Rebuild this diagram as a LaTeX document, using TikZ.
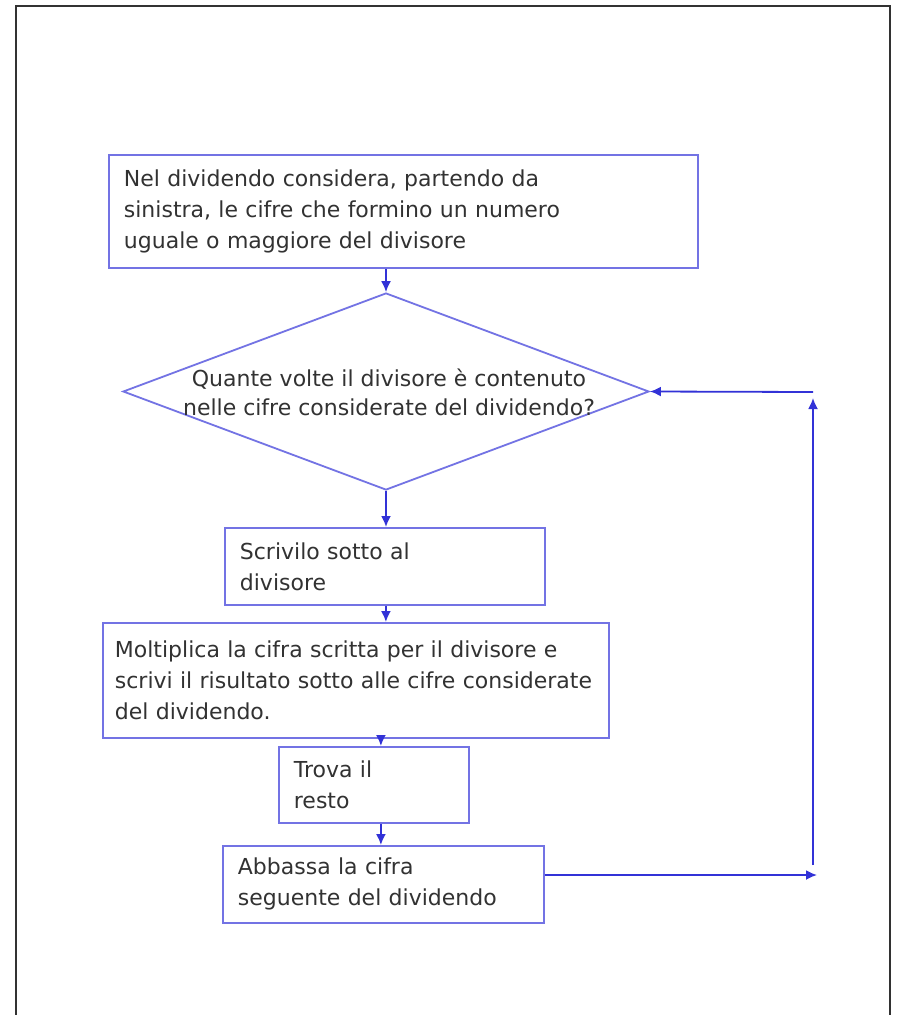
\documentclass[tikz,border=0pt]{standalone}
\usepackage{fontspec}
\setmainfont{DejaVu Sans}
\usetikzlibrary{shapes.geometric, arrows.meta, positioning, calc}
\definecolor{boxblue}{RGB}{115, 115, 228}
\definecolor{flowblue}{RGB}{50, 50, 215}
\definecolor{textgray}{RGB}{50, 50, 50}
\definecolor{framegray}{RGB}{50, 50, 50}

\begin{document}
\begin{tikzpicture}[x=1pt, y=-1pt,
    stepbox/.style={draw=boxblue, line width=1.8pt, rectangle, anchor=north west,
        inner xsep=15pt, inner ysep=0pt, align=left, text=textgray,
        font=\fontsize{22}{31}\selectfont},
    decision/.style={draw=boxblue, line width=1.8pt, diamond, inner sep=0pt,
        minimum width=526pt, minimum height=197pt},
    asklabel/.style={align=center, text=textgray, inner sep=0pt,
        font=\fontsize{22}{29}\selectfont},
    flow/.style={draw=flowblue, line width=1.8pt, -{Latex[length=11pt, width=10pt]}}
]
    % Page and frame
    \fill[white] (0,0) rectangle (897,1015);
    \useasboundingbox (0,0) rectangle (897,1015);
    \draw[framegray, line width=2pt] (15.5,1015) -- (15.5,6) -- (890,6) -- (890,1015);

    % Steps
    \node[stepbox, text width=559pt, minimum height=113pt] (consider) at (108,154)
        {Nel dividendo considera, partendo da\\sinistra, le cifre che formino un numero\\uguale o maggiore del divisore};
    \node[decision] (ask) at (386,391.5) {};
    \node[asklabel] (asktext) at (389,392)
        {Quante volte il divisore è contenuto\\nelle cifre considerate del dividendo?};
    \node[stepbox, text width=290pt, minimum height=77pt] (write) at (224,527)
        {Scrivilo sotto al\\divisore};
    \node[stepbox, inner xsep=12pt, text width=482pt, minimum height=115pt] (multiply) at (102,622)
        {\hyphenpenalty=10000 Moltiplica la cifra scritta per il divisore e\\scrivi il risultato sotto alle cifre considerate\\del dividendo.};
    \node[stepbox, text width=160pt, minimum height=76pt] (rest) at (278,746)
        {Trova il\\resto};
    \node[stepbox, text width=291pt, minimum height=77pt] (lower) at (222,845)
        {Abbassa la cifra\\seguente del dividendo};

    % Connectors
    \draw[flow] (ask.north |- consider.south) -- (ask.north);
    \draw[flow] (ask.south) -- (ask.south |- write.north);
    \draw[flow] ([xshift=1pt]write.south) -- ([xshift=1pt]write.south |- multiply.north);
    \draw[flow] ([xshift=7pt]rest.north |- multiply.south) -- ([xshift=7pt]rest.north);
    \draw[flow] ([xshift=7pt]rest.south) -- ([xshift=7pt]rest.south |- lower.north);

    % Loop back to the question
    \coordinate (loopdown) at (817,875);
    \coordinate (loopup) at (813,392);
    \draw[flow] (lower.east |- loopdown) -- (loopdown);
    \draw[flow] ([yshift=10pt]loopup |- loopdown) -- ([yshift=-6pt]loopup);
    \draw[flow] (loopup) -- (ask.east);
\end{tikzpicture}
\end{document}
